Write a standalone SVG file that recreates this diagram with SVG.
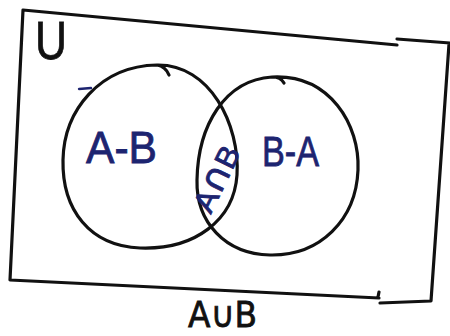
<svg xmlns="http://www.w3.org/2000/svg" width="450" height="336" viewBox="0 0 450 336">
  <style>
    .ink { fill: none; stroke: #111; stroke-width: 3.2; stroke-linecap: round; stroke-linejoin: round; }
    .blue { fill: #1d2470; stroke: #1d2470; stroke-width: 0.8; font-family: "Liberation Sans", Arial, sans-serif; }
    .black { fill: #111; stroke: #111; stroke-width: 0.8; font-family: "DejaVu Sans", "Liberation Sans", sans-serif; }
    .sym { font-family: "DejaVu Sans", sans-serif; }
  </style>
  <rect width="450" height="336" fill="#ffffff"/>
  <g id="universe">
    <path class="ink" d="M23,10 L397,45 M397,39 L450,43 M449,44 L431,301 L380,303 M378,297 L379,292 M379,298 L10,280 L23,10"/>
    <text x="35" y="59" font-size="54" textLength="32" lengthAdjust="spacingAndGlyphs" fill="#111" stroke="#111" stroke-width="0.8" font-family="'Liberation Sans', Arial, sans-serif">U</text>
  </g>
  <g id="setA">
    <path class="ink" d="M157,65 C210,64 240,125 237,175 C234,220 195,250 140,248 C90,246 62,210 63,160 C64,110 100,66 157,65 C163,66 167,70 169,75"/>
    <text class="blue" x="86" y="163" font-size="44" textLength="71" lengthAdjust="spacingAndGlyphs">A-B</text>
    <path d="M79,89 L91,88" stroke="#1d2470" stroke-width="2.4" stroke-linecap="round"/>
  </g>
  <g id="setB">
    <path class="ink" d="M272,77 C330,74 360,125 358,170 C356,220 320,256 270,255 C225,254 196,222 197,180 C198,125 225,80 272,77 C278,77 282,79 284,83"/>
    <text class="blue" x="262" y="166" font-size="42" textLength="57" lengthAdjust="spacingAndGlyphs">B-A</text>
  </g>
  <g id="intersection">
    <text class="blue" transform="translate(217,179) rotate(-64)" x="0" y="10" text-anchor="middle" font-size="30" textLength="70" lengthAdjust="spacingAndGlyphs">A<tspan class="sym" font-size="36">∩</tspan>B</text>
  </g>
  <g id="union-label">
    <text class="black" x="188" y="327" font-size="36" textLength="69" lengthAdjust="spacingAndGlyphs">A∪B</text>
  </g>
  <g id="connectors"></g>
</svg>
